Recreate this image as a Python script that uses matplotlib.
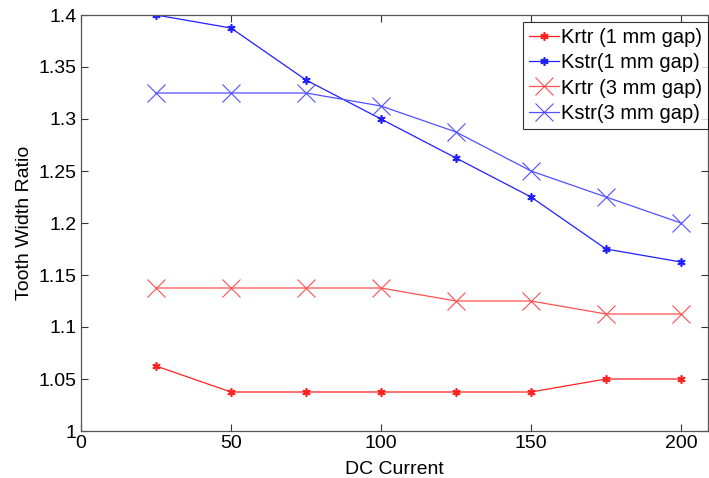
import matplotlib
matplotlib.use("Agg")
import matplotlib.pyplot as plt
from matplotlib.ticker import FuncFormatter

plt.rcParams['font.family'] = ['Liberation Sans', 'DejaVu Sans']

current = [25, 50, 75, 100, 125, 150, 175, 200]
krtr_1mm = [1.0625, 1.0375, 1.0375, 1.0375, 1.0375, 1.0375, 1.05, 1.05]
kstr_1mm = [1.4, 1.3875, 1.3375, 1.3, 1.2625, 1.225, 1.175, 1.1625]
krtr_3mm = [1.1375, 1.1375, 1.1375, 1.1375, 1.125, 1.125, 1.1125, 1.1125]
kstr_3mm = [1.325, 1.325, 1.325, 1.3125, 1.2875, 1.25, 1.225, 1.2]
labels = ['Krtr (1 mm gap)', 'Kstr(1 mm gap)', 'Krtr (3 mm gap)', 'Kstr(3 mm gap)']
xticks = [0, 50, 100, 150, 200]
yticks = [1, 1.05, 1.1, 1.15, 1.2, 1.25, 1.3, 1.35, 1.4]

fig = plt.figure(figsize=(7.09, 4.78), dpi=100)
ax = fig.add_axes([81/709, 1-431/478, (708-81)/709, (431-15)/478])

star = (6, 2, 0)
ax.plot(current, krtr_1mm, color='#ff2020', lw=0.9, marker=star, ms=6, mew=1.2, label=labels[0])
ax.plot(current, kstr_1mm, color='#2020ff', lw=0.9, marker=star, ms=6, mew=1.2, label=labels[1])
ax.plot(current, krtr_3mm, color='#ff5050', lw=0.9, marker='x', ms=13, mew=0.8, label=labels[2])
ax.plot(current, kstr_3mm, color='#5050ff', lw=0.9, marker='x', ms=13, mew=0.8, label=labels[3])

ax.set_xlim(0, 209)
ax.set_ylim(1, 1.4)
ax.set_xticks(xticks)
ax.set_yticks(yticks)
ax.yaxis.set_major_formatter(FuncFormatter(lambda v, p: '%g' % round(v, 4)))
ax.tick_params(direction='in', top=True, right=True, labelsize=14, length=5, color='#333333', pad=3)
for s in ax.spines.values():
    s.set_color('#555555')
    s.set_linewidth(0.9)

ax.set_xlabel('DC Current', fontsize=14, labelpad=6)
ax.set_ylabel('Tooth Width Ratio', fontsize=14, labelpad=4)

leg = ax.legend(loc='upper left', bbox_to_anchor=((523-81)/627, 1-(22-15)/416), fontsize=14.5,
                frameon=True, fancybox=False, edgecolor='black', handlelength=1.5,
                handletextpad=0.1, borderpad=0.3, labelspacing=0.31, borderaxespad=0)
leg.get_frame().set_linewidth(0.8)

fig.savefig('out.png', dpi=100)
